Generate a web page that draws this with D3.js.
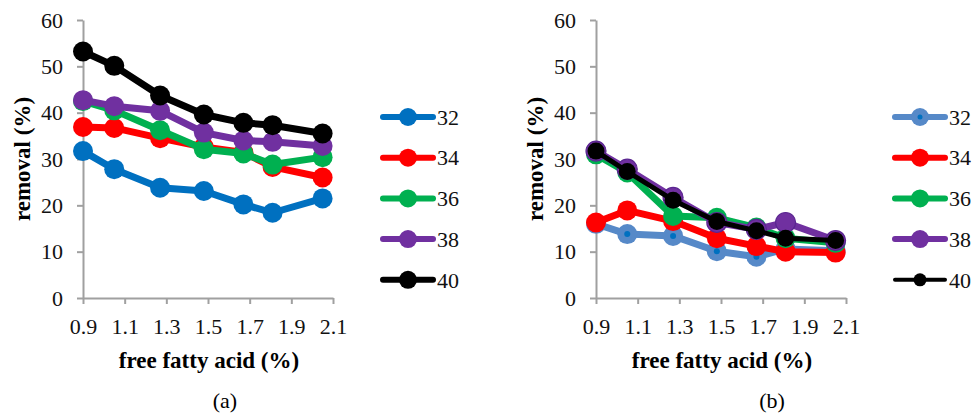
<!DOCTYPE html>
<html>
<head>
<meta charset="utf-8">
<script src="https://cdn.jsdelivr.net/npm/d3@7"></script>
<style>
  body { margin: 0; background: #fff; }
  svg { display: block; }
  svg text { font-family: "Liberation Serif", "Times New Roman", Tinos, "DejaVu Serif", serif; }
</style>
</head>
<body>
<svg width="973" height="416"></svg>
<script>
// free fatty acid (%) - x positions shared by both panels
var ffa = [0.9, 1.05, 1.27, 1.48, 1.67, 1.81, 2.05];
var names = ["32", "34", "36", "38", "40"];
var xTicks = [0.9, 1.1, 1.3, 1.5, 1.7, 1.9, 2.1];
var yTicks = [0, 10, 20, 30, 40, 50, 60];

// panel (a) removal (%)
var a32 = [31.7, 27.8, 23.8, 23.1, 20.2, 18.4, 21.5];
var a34 = [36.9, 36.7, 34.5, 32.6, 31.4, 28.3, 26.0];
var a36 = [42.5, 40.5, 36.2, 32.1, 31.2, 28.8, 30.4];
var a38 = [42.7, 41.4, 40.4, 35.7, 34.0, 33.7, 32.8];
var a40 = [53.2, 50.1, 43.7, 39.6, 37.8, 37.3, 35.5];

// panel (b) removal (%)
var b32 = [16.0, 13.8, 13.4, 10.1, 8.9, 10.6, 10.2];
var b34 = [16.3, 18.9, 16.6, 12.9, 11.2, 10.0, 9.8];
var b36 = [31.0, 27.1, 17.7, 17.3, 15.2, 12.9, 11.9];
var b38 = [31.7, 27.8, 21.7, 16.3, 14.8, 16.3, 12.4];
var b40 = [31.7, 27.3, 21.1, 16.5, 14.5, 12.9, 12.4];

var svg = d3.select("svg");
var serif = '"Liberation Serif", "Times New Roman", Tinos, "DejaVu Serif", serif';

function drawPanel(p) {
  var x = d3.scaleLinear().domain([0.9, 2.1]).range([p.left, p.left + 250]);
  var y = d3.scaleLinear().domain([0, 60]).range([298, 20]);
  var g = svg.append("g");

  var yAx = g.append("g")
    .attr("transform", "translate(" + p.left + ",0)")
    .call(d3.axisLeft(y).tickValues(yTicks).tickSize(6).tickSizeOuter(0).tickPadding(14));
  var xAx = g.append("g")
    .attr("transform", "translate(0,298)")
    .call(d3.axisBottom(x).tickValues(xTicks).tickSize(6).tickSizeOuter(0).tickPadding(14)
      .tickFormat(d3.format(".1f")));
  [yAx, xAx].forEach(function(a) {
    a.attr("font-family", serif);
    a.selectAll("path, line").attr("stroke", "#a0a0a0").attr("stroke-width", 2);
    a.selectAll("text").attr("font-size", 22).attr("fill", "#111");
  });

  g.append("text")
    .attr("transform", "translate(" + (p.left - 61) + ",159) rotate(-90)")
    .attr("text-anchor", "middle").attr("dy", "0.35em")
    .attr("font-size", 23).attr("font-weight", "bold")
    .text("removal (%)");
  g.append("text")
    .attr("x", p.left + 126).attr("y", 360).attr("dy", "0.35em")
    .attr("text-anchor", "middle").attr("font-size", 23).attr("font-weight", "bold")
    .text("free fatty acid (%)");
  g.append("text")
    .attr("x", p.label).attr("y", 400).attr("dy", "0.35em")
    .attr("text-anchor", "middle").attr("font-size", 22)
    .text(p.tag);

  var line = d3.line().x(function(d, i) { return x(ffa[i]); }).y(function(d) { return y(d); });

  p.series.forEach(function(s, k) {
    var st = p.styles[k];
    g.append("path").datum(s)
      .attr("d", line).attr("fill", "none")
      .attr("stroke", st.color).attr("stroke-width", st.lw)
      .attr("stroke-linejoin", "round");
    g.selectAll(".m" + k).data(s).enter().append("circle")
      .attr("cx", function(d, i) { return x(ffa[i]); })
      .attr("cy", function(d) { return y(d); })
      .attr("r", st.r).attr("fill", st.color)
      .attr("stroke", st.edge || "none").attr("stroke-width", 1.2);
    if (st.dot) {
      g.selectAll(".d" + k).data(s).enter().append("circle")
        .attr("cx", function(d, i) { return x(ffa[i]); })
        .attr("cy", function(d) { return y(d); })
        .attr("r", 3).attr("fill", st.dot);
    }

    // legend entry
    var ly = 117 + k * 40.7;
    var lg = g.append("g").attr("transform", "translate(" + p.legend + "," + ly + ")");
    lg.append("line").attr("x1", 0).attr("x2", 50)
      .attr("stroke", st.color).attr("stroke-width", st.llw).attr("stroke-linecap", "round");
    lg.append("circle").attr("cx", 25).attr("r", st.lr).attr("fill", st.color);
    if (st.dot) lg.append("circle").attr("cx", 25).attr("r", 2.5).attr("fill", st.dot);
    lg.append("text").attr("x", 54).attr("dy", "0.35em")
      .attr("font-size", 22).attr("fill", "#111").text(names[k]);
  });
}

drawPanel({
  left: 83, label: 225, tag: "(a)", legend: 383,
  series: [a32, a34, a36, a38, a40],
  styles: [
    { color: "#0070c0", lw: 7, r: 10, llw: 6, lr: 9 },
    { color: "#ff0000", lw: 7, r: 10, llw: 6, lr: 9 },
    { color: "#00b050", lw: 7, r: 10, llw: 6, lr: 9 },
    { color: "#7030a0", lw: 7, r: 10, llw: 6, lr: 9 },
    { color: "#000000", lw: 7, r: 10, llw: 6, lr: 9 }
  ]
});

drawPanel({
  left: 596, label: 772, tag: "(b)", legend: 895,
  series: [b32, b34, b36, b38, b40],
  styles: [
    { color: "#5689c8", lw: 7, r: 10, llw: 6, lr: 9, dot: "#0070c0" },
    { color: "#ff0000", lw: 7, r: 10, llw: 6, lr: 9 },
    { color: "#00b050", lw: 7, r: 10, llw: 6, lr: 9 },
    { color: "#7030a0", lw: 7, r: 10, llw: 6, lr: 9, edge: "#5a2590" },
    { color: "#000000", lw: 5, r: 8.5, llw: 4, lr: 6.5 }
  ]
});
</script>
</body>
</html>
